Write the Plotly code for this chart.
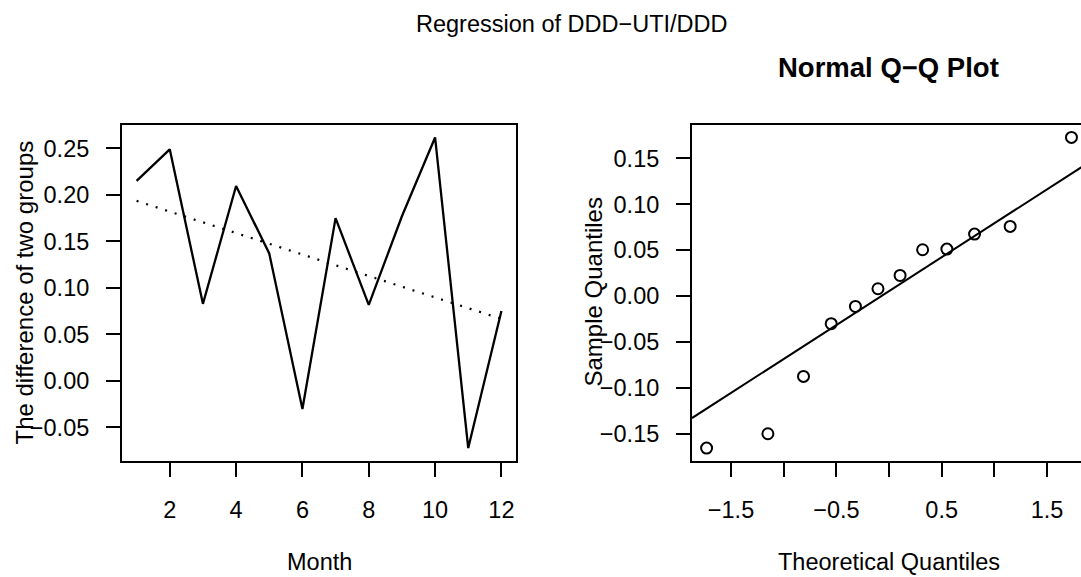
import numpy as np
import plotly.graph_objects as go

# ---- data ----
months = [1, 2, 3, 4, 5, 6, 7, 8, 9, 10, 11, 12]
diff_two_groups = [0.215, 0.249, 0.0828, 0.2095, 0.137, -0.0303, 0.175, 0.0817, 0.177, 0.2618, -0.0723, 0.0752]

theoretical_q = [-1.732, -1.150, -0.812, -0.549, -0.319, -0.105, 0.105, 0.319, 0.549, 0.812, 1.150, 1.732]
sample_q = [-0.1656, -0.150, -0.0875, -0.0301, -0.0113, 0.0080, 0.0225, 0.0505, 0.0512, 0.0676, 0.0759, 0.1729]

left_yticks = [-0.05, 0.00, 0.05, 0.10, 0.15, 0.20, 0.25]
left_xticks = [2, 4, 6, 8, 10, 12]
right_yticks = [-0.15, -0.10, -0.05, 0.00, 0.05, 0.10, 0.15]
right_xticks = [-1.5, -1.0, -0.5, 0.0, 0.5, 1.0, 1.5]
right_xticktext = ["\u22121.5", "", "\u22120.5", "", "0.5", "", "1.5"]

main_title = "Regression of DDD\u2212UTI/DDD"
qq_title = "Normal Q\u2212Q Plot"

# ---- derived ----
slope, intercept = np.polyfit(months, diff_two_groups, 1)
fitted = [intercept + slope * m for m in months]

q1, q3 = np.quantile(sample_q, [0.25, 0.75])
z1, z3 = -0.6744897501960817, 0.6744897501960817
qq_slope = (q3 - q1) / (z3 - z1)
qq_int = q1 - qq_slope * z1

def expand(vals, f=0.04):
    lo, hi = min(vals), max(vals)
    d = (hi - lo) * f
    return [lo - d, hi + d]

W, H = 1081, 577
FONT = "Liberation Sans, Arial, Helvetica, sans-serif"

def px_x(p):
    return p / W

def px_y(p):
    return 1 - p / H

lx_range = expand(months)
ly_range = expand(diff_two_groups)
rx_full = expand(theoretical_q)
# right panel is cut by the picture edge
rx_scale = (1047 - 731) / 3.0
rx_range = [rx_full[0], rx_full[0] + (W - 692) / rx_scale]
ry_range = expand(sample_q)

fig = go.Figure()

fig.add_trace(go.Scatter(x=months, y=diff_two_groups, mode="lines",
                         line=dict(color="black", width=2.3), xaxis="x", yaxis="y",
                         showlegend=False))
fig.add_trace(go.Scatter(x=months, y=fitted, mode="lines",
                         line=dict(color="black", width=2.2, dash="2px,8px"), xaxis="x", yaxis="y",
                         showlegend=False))

fig.add_trace(go.Scatter(x=theoretical_q, y=sample_q, mode="markers",
                         marker=dict(symbol="circle-open", size=11, color="black",
                                     line=dict(width=2, color="black")),
                         xaxis="x2", yaxis="y2", showlegend=False, cliponaxis=False))
qq_x = [rx_full[0], rx_full[1]]
fig.add_trace(go.Scatter(x=qq_x, y=[qq_int + qq_slope * v for v in qq_x], mode="lines",
                         line=dict(color="black", width=2), xaxis="x2", yaxis="y2",
                         showlegend=False))

ydom = [px_y(460.5), px_y(125)]
axis_common = dict(showgrid=False, zeroline=False, showline=True, linecolor="black",
                   linewidth=2, ticks="outside", ticklen=14, tickwidth=1.8,
                   tickcolor="black", tickfont=dict(family=FONT, size=23.5, color="black"))

fig.update_layout(
    width=W, height=H,
    margin=dict(l=0, r=0, t=0, b=0),
    paper_bgcolor="white", plot_bgcolor="white",
    xaxis=dict(domain=[px_x(122), px_x(516)], range=lx_range, tickvals=left_xticks,
               mirror=True, anchor="y", ticklabelstandoff=13, **axis_common),
    yaxis=dict(domain=ydom, range=ly_range, tickvals=left_yticks, tickformat=".2f",
               mirror=True, anchor="x", ticklabelstandoff=12, **axis_common),
    xaxis2=dict(domain=[px_x(692), 1.0], range=rx_range, tickvals=right_xticks,
                ticktext=right_xticktext, mirror=True, anchor="y2",
                ticklabelstandoff=13, **axis_common),
    yaxis2=dict(domain=ydom, range=ry_range, tickvals=right_yticks, tickformat=".2f",
                mirror=False, anchor="x2", ticklabelstandoff=12, **axis_common),
)

def label(text, x, y, size=23.5, angle=0, bold=False):
    fig.add_annotation(text=f"<b>{text}</b>" if bold else text,
                       x=px_x(x), y=px_y(y), xref="paper", yref="paper",
                       xanchor="center", yanchor="middle", showarrow=False,
                       textangle=angle, font=dict(family=FONT, size=size, color="black"))

label(main_title, 571.5, 24)
label(qq_title, 888, 67, size=27.5, bold=True)
label("Month", 319, 562)
label("Theoretical Quantiles", 889, 562)
label("The difference of two groups", 24, 292.5, size=24, angle=-90)
label("Sample Quantiles", 593, 292.5, size=24, angle=-90)

fig.write_html("out.html")
